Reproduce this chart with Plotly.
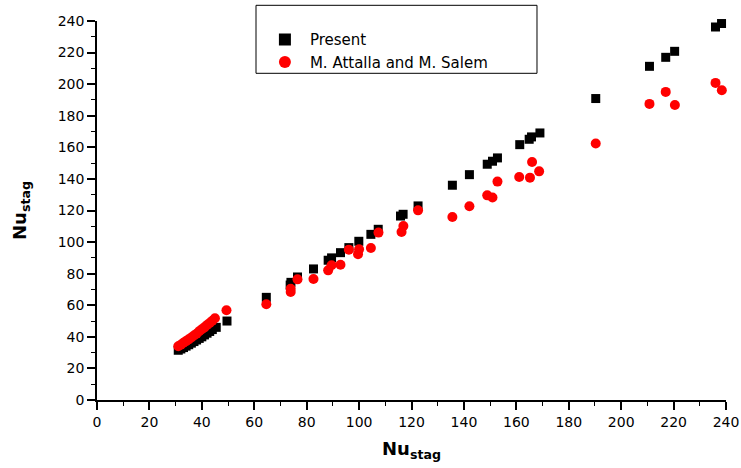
import plotly.graph_objects as go

# Present (black squares)
present_x = [31, 32, 33, 34, 35, 36, 37, 38, 39, 40, 41, 42, 43, 44, 45.5,
             49.6, 64.6, 73.7, 74.0, 76.5, 82.6, 88.2, 89.5, 92.9, 96.1, 99.9,
             104.5, 107.3, 115.8, 116.8, 122.5, 135.6, 142.1, 148.9, 150.9,
             152.8, 161.3, 164.9, 165.8, 169.0, 190.3, 210.8, 217.0, 220.4,
             236.0, 238.3]
present_y = [31.5, 32.3, 33.2, 34.1, 35.0, 36.0, 37.0, 38.0, 39.0, 40.0, 41.2,
             42.3, 43.4, 44.6, 46.0,
             50.0, 65.0, 72.8, 74.5, 77.9, 83.0, 88.5, 90.0, 93.3, 96.5, 100.5,
             104.9, 108.1, 116.5, 117.6, 122.9, 136.0, 142.7, 149.3, 151.2,
             153.3, 161.7, 165.1, 166.6, 169.1, 190.9, 211.3, 217.0, 220.8,
             236.2, 238.4]

# M. Attalla and M. Salem (red circles)
attalla_x = [31, 32, 33, 34, 35, 36, 37, 38, 39, 40, 41, 42, 43, 44, 45,
             49.4, 64.6, 73.9, 73.9, 76.5, 82.6, 88.2, 89.5, 92.9, 96.1, 99.6,
             100.0, 104.5, 107.4, 116.2, 116.9, 122.5, 135.6, 142.1, 148.9,
             150.9, 152.8, 161.1, 165.2, 166.0, 168.7, 190.3, 210.8, 217.0,
             220.5, 236.0, 238.4]
attalla_y = [34.0, 35.0, 36.2, 37.3, 38.4, 39.6, 40.8, 42.0, 43.5, 44.8, 46.0,
             47.5, 48.8, 50.2, 51.8,
             56.8, 60.6, 70.5, 68.4, 76.4, 76.6, 82.1, 85.3, 85.7, 95.2, 92.3,
             95.4, 96.3, 106.0, 106.4, 110.2, 120.1, 115.9, 122.7, 129.6,
             128.2, 138.3, 141.2, 140.8, 150.7, 144.8, 162.4, 187.5, 195.1,
             186.8, 200.8, 196.1]

tick_vals = [0, 20, 40, 60, 80, 100, 120, 140, 160, 180, 200, 220, 240]
tick_text = [str(v) for v in tick_vals]

FONT = "DejaVu Sans, Arial, sans-serif"

fig = go.Figure()
fig.add_trace(go.Scatter(
    x=present_x, y=present_y, mode="markers", name="Present",
    marker=dict(symbol="square", size=9, color="black"),
    cliponaxis=False,
))
fig.add_trace(go.Scatter(
    x=attalla_x, y=attalla_y, mode="markers", name="M. Attalla and M. Salem",
    marker=dict(symbol="circle", size=10, color="#ff0000"),
    cliponaxis=False,
))

axis_common = dict(
    range=[0, 240], tickmode="array", tickvals=tick_vals, ticktext=tick_text,
    showline=True, linecolor="black", linewidth=1.5, mirror=False,
    ticks="outside", ticklen=8, tickwidth=1.5, tickcolor="black",
    showgrid=False, zeroline=False, automargin=False,
    tickfont=dict(family=FONT, size=14, color="black"),
    minor=dict(ticks="outside", ticklen=4, tickwidth=1.2, tickcolor="black", dtick=10, showgrid=False),
)

fig.update_xaxes(**axis_common,
                 title=dict(text="<b>Nu<sub>stag</sub></b>",
                            font=dict(family=FONT, size=18, color="black"), standoff=14))
fig.update_yaxes(**axis_common,
                 title=dict(text="<b>Nu<sub>stag</sub></b>",
                            font=dict(family=FONT, size=18, color="black"), standoff=26))

fig.add_shape(type="rect", xref="paper", yref="paper",
              x0=0.2528, x1=0.6995, y0=0.862, y1=1.0414,
              line=dict(color="black", width=1), fillcolor="rgba(0,0,0,0)")

fig.update_layout(
    width=741, height=468,
    margin=dict(l=97, r=15, t=21, b=68),
    plot_bgcolor="white", paper_bgcolor="white",
    showlegend=True,
    legend=dict(x=0.259, y=0.994, xanchor="left", yanchor="top",
                bgcolor="rgba(0,0,0,0)", borderwidth=0,
                font=dict(family=FONT, size=15, color="black"),
                tracegroupgap=0, itemsizing="constant", itemwidth=40),
)

fig.write_html("out.html")
